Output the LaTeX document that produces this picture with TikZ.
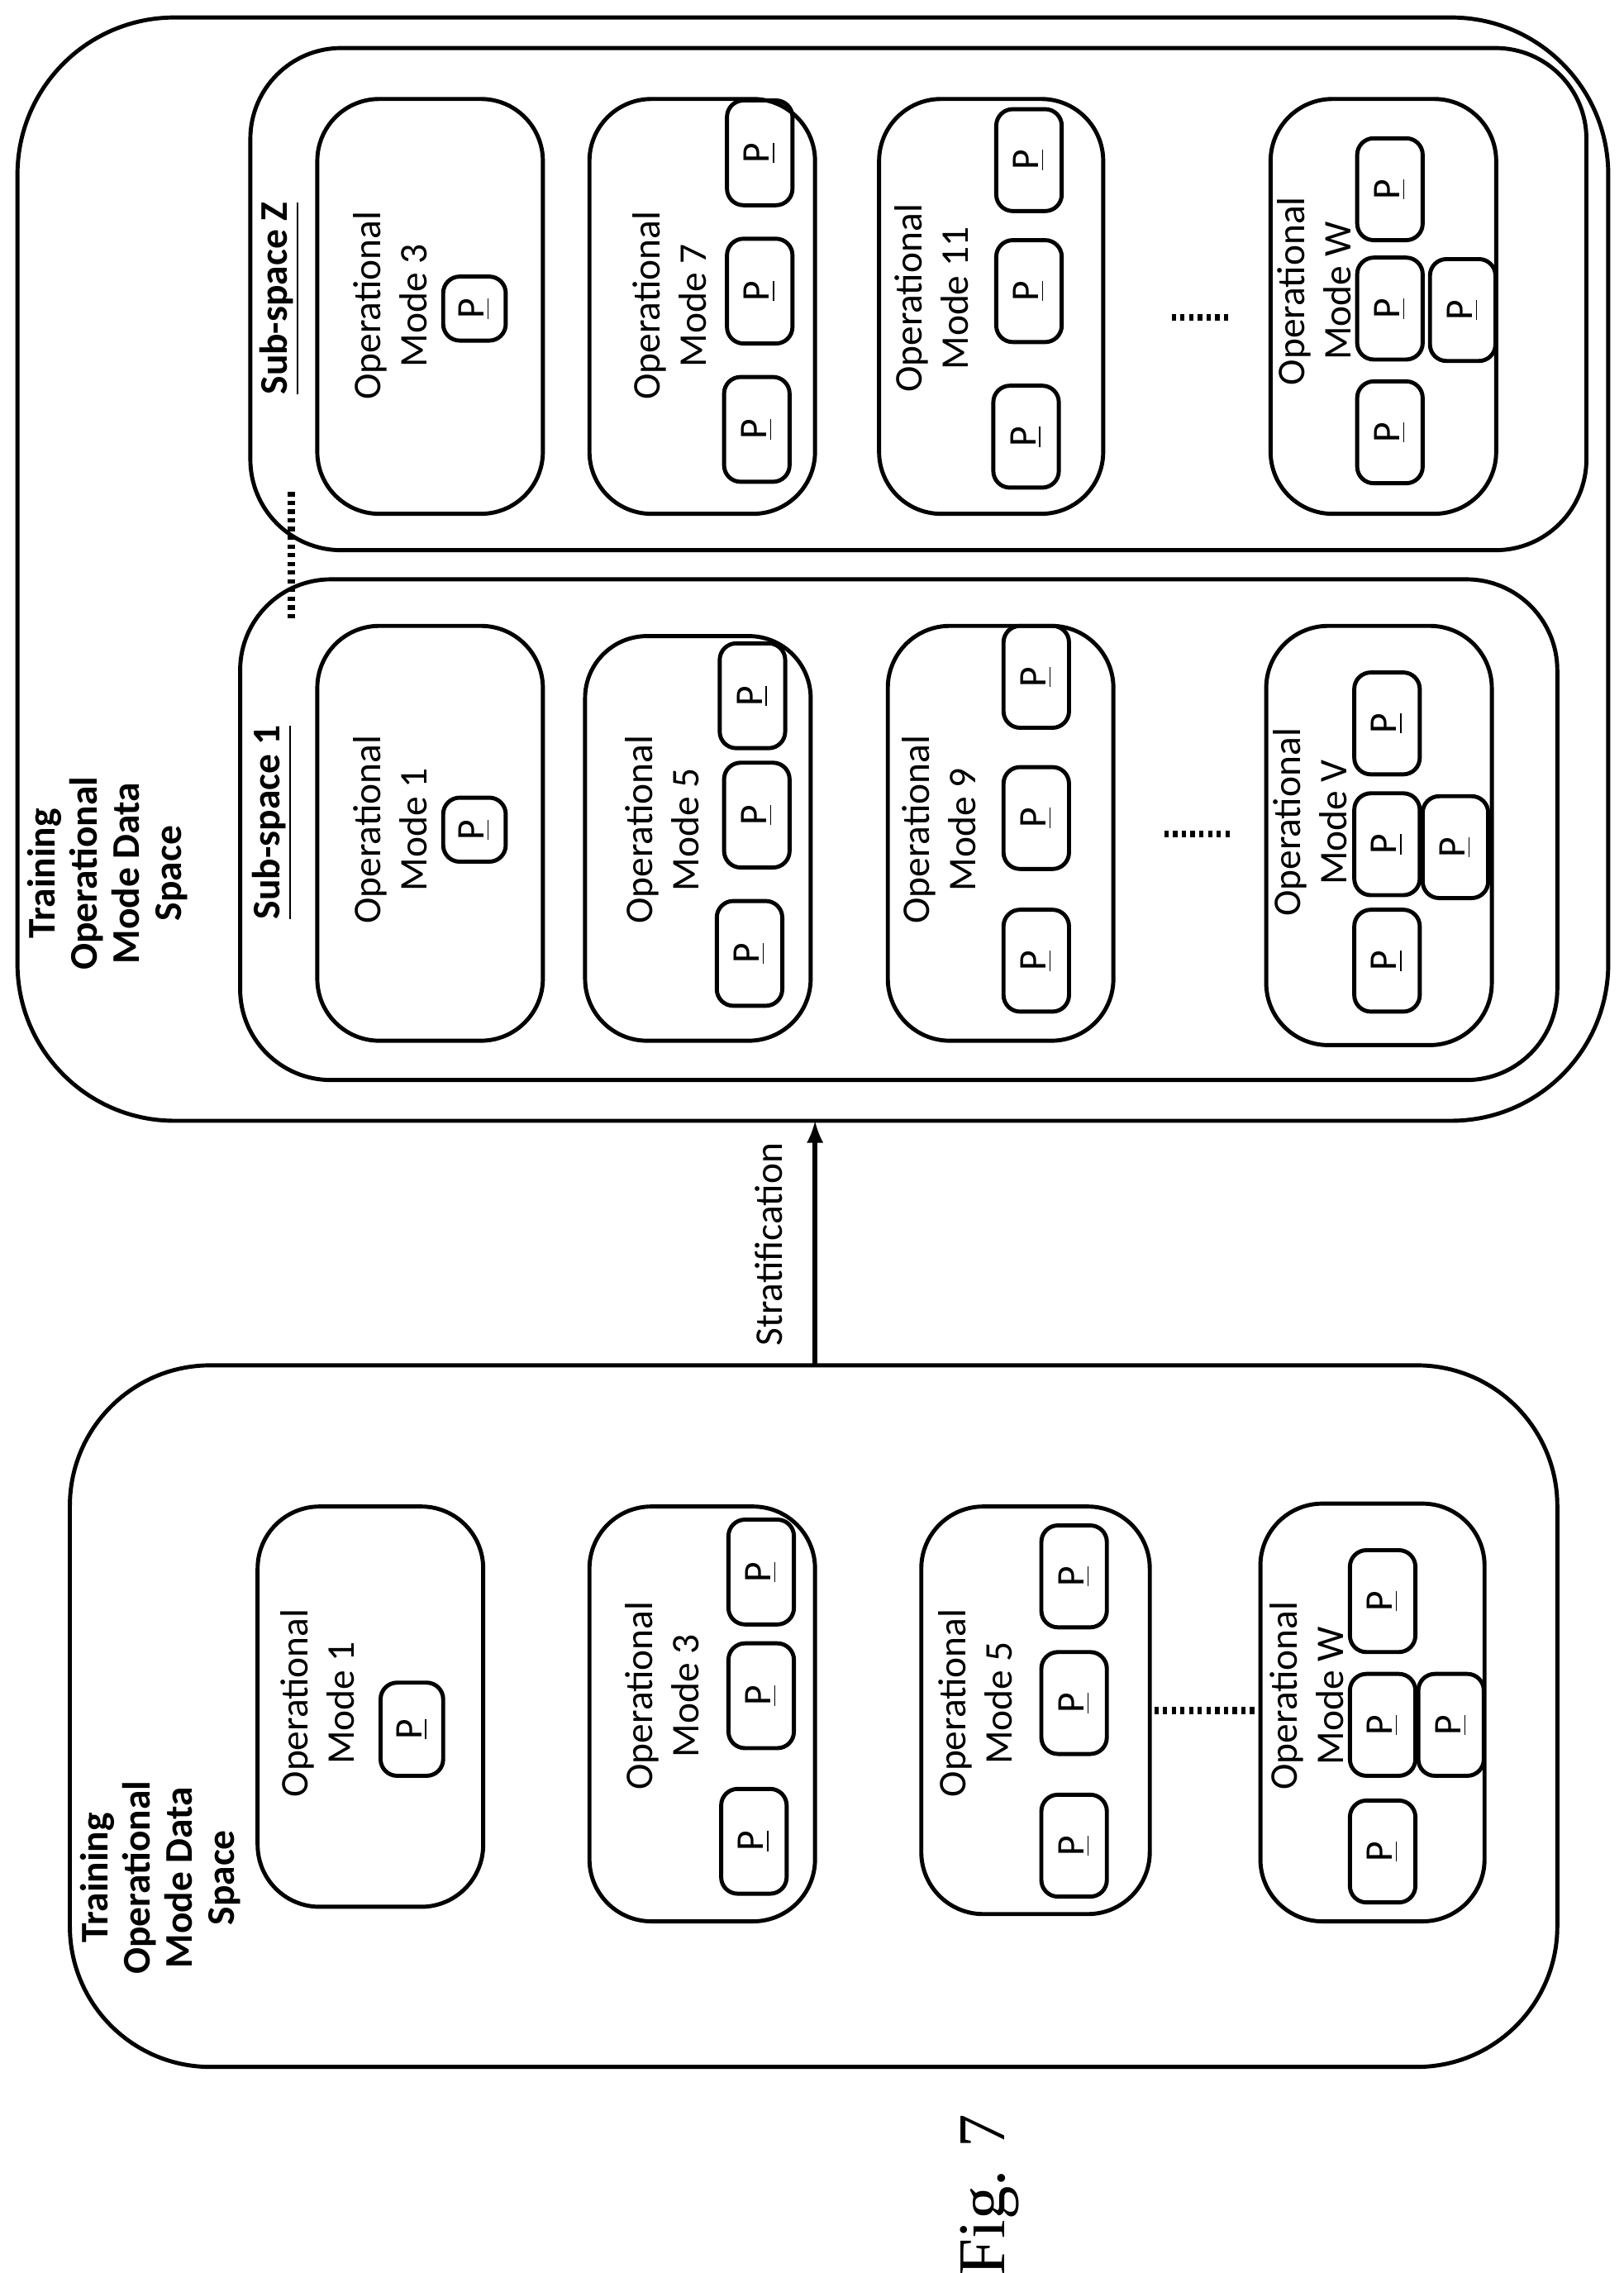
\documentclass[tikz,border=0pt]{standalone}
\usepackage{fontspec}
\setmainfont{Carlito}
\newfontfamily\figfont{Liberation Serif}
\tikzset{
  box/.style={draw, line width=1.4pt, rounded corners=#1},
  lbl/.style={rotate=90, align=center, font=\fontsize{13.5}{16}\selectfont},
  ttl/.style={rotate=90, align=center, font=\bfseries\fontsize{13.5}{14.5}\selectfont},
  pt/.style={draw, line width=1.4pt, rounded corners=0.2cm, rotate=90,
    font=\fontsize{13.5}{16}\selectfont, inner sep=0pt},
}
% a "P" box: name, centre, width (x), height (y)
\newcommand{\pbox}[5]{\node[pt, minimum width=#5*0.01761cm, minimum height=#4*0.01761cm] (#1) at (#2,#3) {\underline{P}};}
\begin{document}
\begin{tikzpicture}[x=0.01761cm, y=-0.01761cm]
    \useasboundingbox (0,0) rectangle (1115.3,1561.6);

    % Stratified data space (right)
    \draw[box=1.9cm] (12,12) rectangle (1105,770);
    \node[ttl] (titleR) at (74,600) {Training\\Operational\\Mode Data\\Space};

    \draw[box=1.1cm] (165,398) rectangle (1070,742);
    \draw[box=1.1cm] (172,33) rectangle (1090,378);
    \node[ttl] (ss1) at (187,565) {\underline{Sub-space 1}};
    \node[ttl] (ssz) at (192,205) {\underline{Sub-space Z}};
    \coordinate (dz1) at (200,338);
    \coordinate (dz2) at (200,425);
    \draw[line width=2.5pt, dash pattern=on 1.5pt off 1.5pt] (dz1) -- (dz2);

    % Sub-space 1
    \draw[box=0.75cm] (218,430) rectangle (373,715);
    \node[lbl] (r1) at (268,570) {Operational\\Mode 1};
    \pbox{r1a}{326}{570}{43}{44}
    \draw[box=0.75cm] (402,437) rectangle (557,715);
    \node[lbl] (r5) at (455,570) {Operational\\Mode 5};
    \pbox{r5a}{517}{478}{45}{72}
    \pbox{r5b}{520}{560}{45}{72}
    \pbox{r5c}{515}{655}{45}{72}
    \draw[box=0.75cm] (610,430) rectangle (765,715);
    \node[lbl] (r9) at (645,570) {Operational\\Mode 9};
    \pbox{r9a}{712}{465}{45}{70}
    \pbox{r9b}{712}{562}{45}{70}
    \pbox{r9c}{712}{660}{45}{70}
    \draw[box=0.75cm] (870,430) rectangle (1025,718);
    \node[lbl] (rV) at (900,565) {Operational\\Mode V};
    \pbox{rVa}{953}{497}{45}{70}
    \pbox{rVb}{953}{580}{45}{70}
    \pbox{rVc}{1000}{582}{45}{70}
    \pbox{rVd}{953}{660}{45}{70}
    \coordinate (d1a) at (800,573);
    \coordinate (d1b) at (845,573);
    \draw[line width=2.5pt, dash pattern=on 1.5pt off 1.5pt] (d1a) -- (d1b);

    % Sub-space Z
    \draw[box=0.75cm] (218,68) rectangle (373,353);
    \node[lbl] (z3) at (268,210) {Operational\\Mode 3};
    \pbox{z3a}{326}{212}{43}{44}
    \draw[box=0.75cm] (405,68) rectangle (560,353);
    \node[lbl] (z7) at (460,210) {Operational\\Mode 7};
    \pbox{z7a}{522}{105}{45}{72}
    \pbox{z7b}{522}{200}{45}{72}
    \pbox{z7c}{520}{295}{45}{72}
    \draw[box=0.75cm] (604,68) rectangle (758,353);
    \node[lbl] (z11) at (640,205) {Operational\\Mode 11};
    \pbox{z11a}{707}{110}{45}{70}
    \pbox{z11b}{707}{200}{45}{70}
    \pbox{z11c}{705}{300}{45}{70}
    \draw[box=0.75cm] (873,68) rectangle (1028,353);
    \node[lbl] (zW) at (903,200) {Operational\\Mode W};
    \pbox{zWa}{955}{130}{45}{70}
    \pbox{zWb}{955}{212}{45}{70}
    \pbox{zWc}{1005}{213}{45}{70}
    \pbox{zWd}{955}{297}{45}{70}
    \coordinate (dZa) at (805,218);
    \coordinate (dZb) at (845,218);
    \draw[line width=2.5pt, dash pattern=on 1.5pt off 1.5pt] (dZa) -- (dZb);

    % Original data space (left)
    \draw[box=1.7cm] (48,938) rectangle (1070,1420);
    \node[ttl] (titleL) at (110,1290) {Training\\Operational\\Mode Data\\Space};
    \draw[box=0.75cm] (177,1035) rectangle (332,1310);
    \node[lbl] (l1) at (218,1170) {Operational\\Mode 1};
    \pbox{l1a}{283}{1188}{43}{64}
    \draw[box=0.75cm] (405,1035) rectangle (560,1320);
    \node[lbl] (l3) at (455,1165) {Operational\\Mode 3};
    \pbox{l3a}{523}{1080}{45}{72}
    \pbox{l3b}{523}{1165}{45}{72}
    \pbox{l3c}{518}{1265}{45}{72}
    \draw[box=0.75cm] (633,1035) rectangle (790,1315);
    \node[lbl] (l5) at (670,1170) {Operational\\Mode 5};
    \pbox{l5a}{738}{1083}{45}{70}
    \pbox{l5b}{738}{1170}{45}{70}
    \pbox{l5c}{738}{1268}{45}{70}
    \draw[box=0.75cm] (866,1033) rectangle (1020,1320);
    \node[lbl] (lW) at (898,1165) {Operational\\Mode W};
    \pbox{lWa}{950}{1100}{45}{70}
    \pbox{lWb}{950}{1185}{45}{70}
    \pbox{lWc}{997}{1185}{45}{70}
    \pbox{lWd}{950}{1272}{45}{70}
    \coordinate (dLa) at (793,1175);
    \coordinate (dLb) at (865,1175);
    \draw[line width=2.5pt, dash pattern=on 1.5pt off 1.5pt] (dLa) -- (dLb);

    % Stratification arrow
    \coordinate (aS) at (560,938);
    \coordinate (aE) at (560,770);
    \draw[line width=1.6pt, -latex] (aS) -- (aE);
    \node[lbl] (strat) at (528,855) {Stratification};

    \node[rotate=90, font=\figfont\fontsize{23}{27}\selectfont] (fig) at (680,1508) {Fig. 7};
\end{tikzpicture}
\end{document}
